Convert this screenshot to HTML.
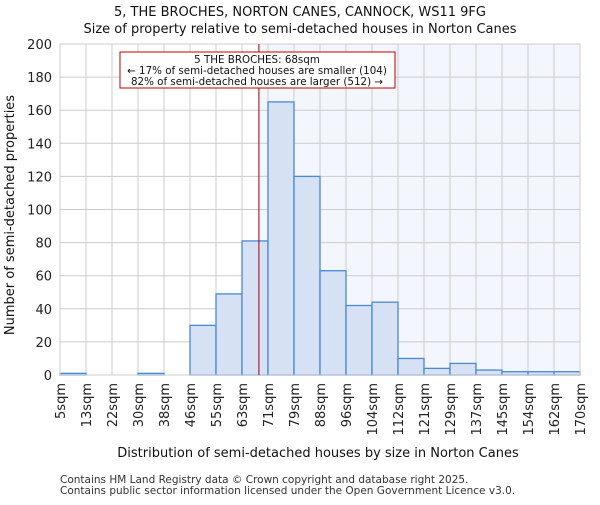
<!DOCTYPE html>
<html><head><meta charset="utf-8"><style>body{margin:0;background:#fff}svg{font-family:"DejaVu Sans","Liberation Sans",sans-serif}</style></head>
<body>
<svg id="c" width="600" height="500"></svg>
<script>
const labels=["5sqm","13sqm","22sqm","30sqm","38sqm","46sqm","55sqm","63sqm","71sqm","79sqm","88sqm","96sqm","104sqm","112sqm","121sqm","129sqm","137sqm","145sqm","154sqm","162sqm","170sqm"];
const counts=[1,0,0,1,0,30,49,81,165,120,63,42,44,10,4,7,3,2,2,2];
const yTicks=[0,20,40,60,80,100,120,140,160,180,200];
const propertyBin=7.65;
const svg=document.getElementById('c');const NS='http://www.w3.org/2000/svg';
const L=60,R=580,T=44,B=375;
const x=i=>L+(R-L)*i/counts.length;
const y=v=>B-(B-T)*v/200;
function mk(t,a,txt){const e=document.createElementNS(NS,t);for(const k in a)e.setAttribute(k,a[k]);if(txt!=null)e.textContent=txt;svg.appendChild(e);return e;}
let e;
e=mk('rect',{x:x(propertyBin),y:T,width:R-x(propertyBin),height:B-T,fill:'#f3f6fd'});

yTicks.forEach(v=>{e=mk('line',{x1:L,x2:R,y1:y(v),y2:y(v),stroke:'#cccccc'});

e=mk('text',{x:L-8,y:y(v)+5,'text-anchor':'end','font-size':13,fill:'#222'},v);
});
labels.forEach((l,i)=>{e=mk('line',{x1:x(i),x2:x(i),y1:T,y2:B,stroke:'#cccccc'});

e=mk('text',{transform:`translate(${x(i)+5},${B+8}) rotate(-90)`,'text-anchor':'end','font-size':13,fill:'#222'},l);
});
counts.forEach((c,i)=>{e=mk('rect',{x:x(i),y:y(c),width:x(i+1)-x(i),height:B-y(c),fill:'#d6e1f3',stroke:'#4a88d8','stroke-width':1.3});
});
e=mk('rect',{x:L,y:T,width:R-L,height:B-T,fill:'none',stroke:'#cccccc'});

e=mk('line',{x1:x(propertyBin),x2:x(propertyBin),y1:T,y2:B,stroke:'#a00000','stroke-width':1});

e=mk('rect',{x:120,y:52,width:275,height:36,fill:'#fff',stroke:'#c00000'});

[["5 THE BROCHES: 68sqm",63],["← 17% of semi-detached houses are smaller (104)",74],["82% of semi-detached houses are larger (512) →",85]].forEach(([t,yy])=>{
e=mk('text',{x:257,y:yy,'text-anchor':'middle','font-size':10.3,fill:'#111'},t);
});
e=mk('text',{x:300,y:16,'text-anchor':'middle','font-size':13,fill:'#111'},'5, THE BROCHES, NORTON CANES, CANNOCK, WS11 9FG');

e=mk('text',{x:300,y:33,'text-anchor':'middle','font-size':13,fill:'#111'},'Size of property relative to semi-detached houses in Norton Canes');

e=mk('text',{x:318,y:457,'text-anchor':'middle','font-size':13,fill:'#111'},'Distribution of semi-detached houses by size in Norton Canes');

e=mk('text',{transform:'translate(14,215) rotate(-90)','text-anchor':'middle','font-size':13,fill:'#111'},'Number of semi-detached properties');

e=mk('text',{x:60,y:483,'font-size':10.5,fill:'#333'},'Contains HM Land Registry data © Crown copyright and database right 2025.');

e=mk('text',{x:60,y:494,'font-size':10.5,fill:'#333'},'Contains public sector information licensed under the Open Government Licence v3.0.');

</script>
</body></html>
